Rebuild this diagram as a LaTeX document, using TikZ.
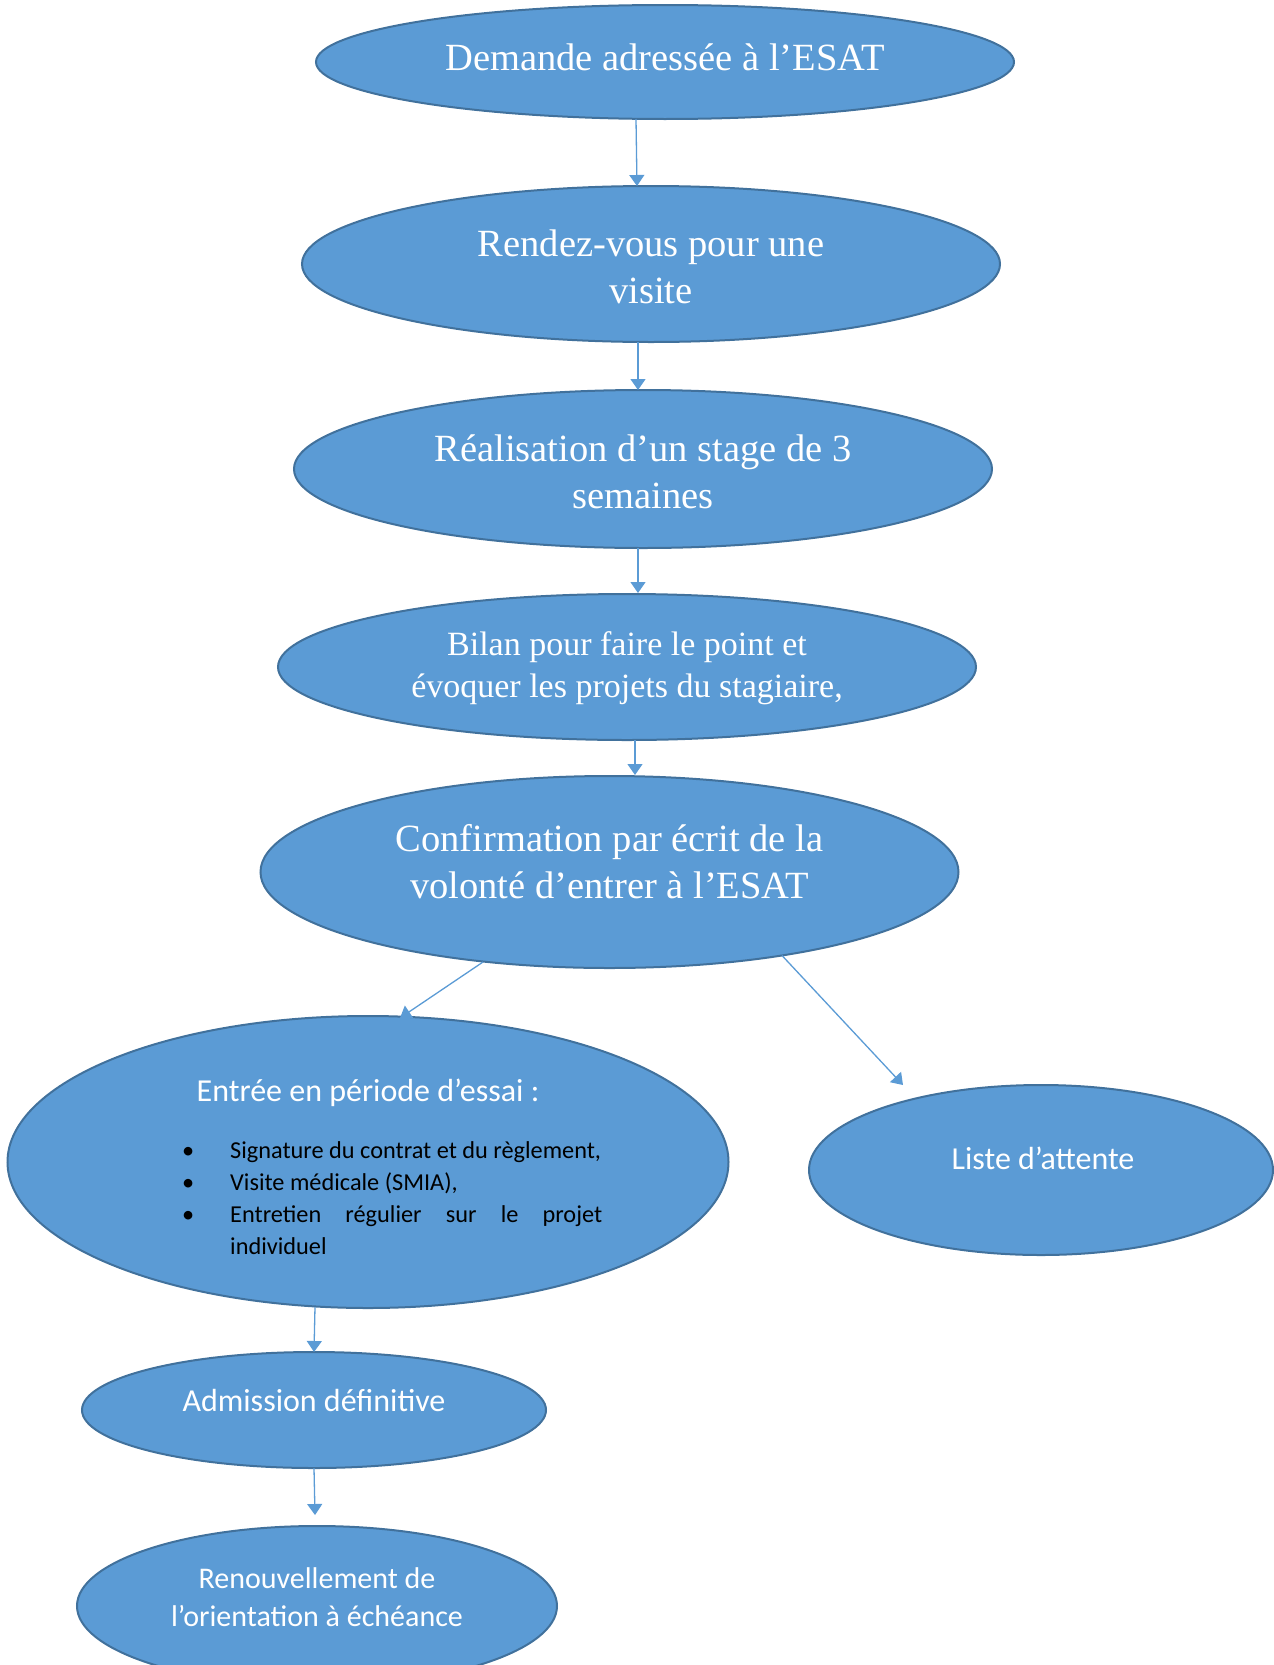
\documentclass[tikz,border=0pt]{standalone}
\usepackage{fontspec}
\setmainfont{Liberation Serif}
\newfontfamily\calibri{Carlito}
\usetikzlibrary{shapes.geometric,arrows.meta,calc}
\definecolor{bleu}{HTML}{5B9BD5}
\definecolor{bord}{HTML}{41719C}
\newcommand{\puce}{\leavevmode\llap{\textbullet\hspace{36pt}}}

\begin{document}
\begin{tikzpicture}[x=1pt,y=-1pt,
	bulle/.style={ellipse, draw=bord, line width=2pt, fill=bleu, inner sep=0pt},
	grand/.style={text=white, align=center, inner sep=0pt, font=\fontsize{38.5}{47}\selectfont},
	moyen/.style={text=white, align=center, inner sep=0pt, font=\fontsize{34}{42}\selectfont},
	sans/.style={text=white, align=center, inner sep=0pt, font=\calibri\fontsize{32}{38}\selectfont},
	puces/.style={text=black, text width=372pt, align=justify, inner sep=0pt, font=\calibri\fontsize{24.3}{32}\selectfont},
	fleche/.style={draw=bleu, line width=1.3pt, -{Triangle[length=11pt,width=15pt]}}]

	\useasboundingbox (0,0) rectangle (1274,1665);

	% ellipses
	\node[bulle, minimum width=698pt, minimum height=114pt] (dem) at (665,62) {};
	\node[bulle, minimum width=698pt, minimum height=156pt] (rdv) at (651,264) {};
	\node[bulle, minimum width=698pt, minimum height=158pt] (stage) at (643,469) {};
	\node[bulle, minimum width=698pt, minimum height=146pt] (bilan) at (627,667) {};
	\node[bulle, minimum width=698pt, minimum height=192pt] (conf) at (609.5,872) {};
	\node[bulle, minimum width=721pt, minimum height=292pt] (essai) at (368,1162) {};
	\node[bulle, minimum width=464pt, minimum height=170pt] (attente) at (1041,1170) {};
	\node[bulle, minimum width=464pt, minimum height=116pt] (admis) at (314,1410) {};
	\node[bulle, minimum width=480pt, minimum height=160pt] (renouv) at (317,1606) {};

	% label
	\node[grand] (demtxt) at (665,57) {Demande adressée à l’ESAT};
	\node[grand] (rdvtxt) at (651,267) {Rendez-vous pour une\\visite};
	\node[grand] (stagetxt) at (643,472) {Réalisation d’un stage de 3\\semaines};
	\node[moyen] (bilantxt) at (627,668) {Bilan pour faire le point et\\évoquer les projets du stagiaire,};
	\node[grand] (conftxt) at (609.5,862) {Confirmation par écrit de la\\volonté d’entrer à l’ESAT};
	\node[sans] (essaitxt) at (368,1093) {Entrée en période d’essai :};
	\node[puces, anchor=north west] (essailiste) at (230,1141) {%
		\puce Signature du contrat et du règlement,\par
		\puce Visite médicale (SMIA),\par
		\puce Entretien régulier sur le projet\linebreak individuel};
	\node[sans] (attentetxt) at (1043,1158) {Liste d’attente};
	\node[sans] (admistxt) at (314,1400) {Admission définitive};
	\node[sans, font=\calibri\fontsize{30}{38}\selectfont] (renouvtxt) at (317,1597) {Renouvellement de\\l’orientation à échéance};

	% arrows
	\draw[fleche] ($(dem)+(-29,57)$) -- ($(rdv)+(-14,-78)$);
	\draw[fleche] ($(rdv)+(-13,78)$) -- ($(stage)+(-5,-79)$);
	\draw[fleche] ($(stage)+(-5,79)$) -- ($(bilan)+(11,-74)$);
	\draw[fleche] ($(bilan)+(8,73)$) -- ($(conf)+(25.5,-97)$);
	\draw[fleche] ($(conf)+(-126.5,90)$) -- ($(essai)+(32,-144)$);
	\draw[fleche] ($(conf)+(172.5,83.5)$) -- ($(attente)+(-138,-85)$);
	\draw[fleche] ($(essai)+(-53,145)$) -- ($(admis)+(0,-58)$);
	\draw[fleche] ($(admis)+(0,58)$) -- ($(renouv)+(-2,-91)$);
\end{tikzpicture}
\end{document}
